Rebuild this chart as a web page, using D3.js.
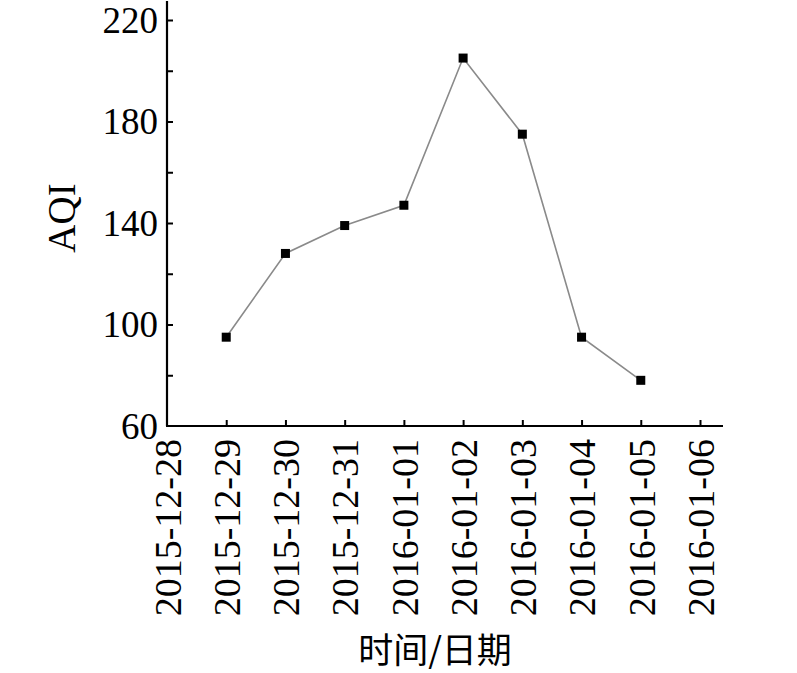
<!DOCTYPE html>
<html>
<head>
<meta charset="utf-8">
<script src="https://cdn.jsdelivr.net/npm/d3@7"></script>
<style>
  html, body { margin: 0; padding: 0; background: #fff; }
  svg { display: block; }
</style>
</head>
<body>
<svg id="chart" width="797" height="673"></svg>
<script>
const dates = ["2015-12-29","2015-12-30","2015-12-31","2016-01-01","2016-01-02","2016-01-03","2016-01-04","2016-01-05"];
const aqi = [95, 128, 139, 147, 205, 175, 95, 78];
const xTickLabels = ["2015-12-28","2015-12-29","2015-12-30","2015-12-31","2016-01-01","2016-01-02","2016-01-03","2016-01-04","2016-01-05","2016-01-06"];
const yTicks = [60, 100, 140, 180, 220];
const yMinorTicks = [80, 120, 160, 200];
const xTitle = "时间/日期";
const yTitle = "AQI";

const parse = d3.timeParse("%Y-%m-%d");
const fmt = d3.timeFormat("%Y-%m-%d");
const svg = d3.select("#chart");

const x = d3.scaleTime()
  .domain([parse(xTickLabels[0]), parse(xTickLabels[xTickLabels.length - 1])])
  .range([167, 700]);
const y = d3.scaleLinear().domain([60, 220]).range([426, 20]);

const serif = "'Liberation Serif', 'Times New Roman', serif";

// axes lines
const axisG = svg.append("g").attr("stroke", "#000").attr("stroke-width", 2.2);
axisG.append("line").attr("x1", 167).attr("x2", 167).attr("y1", y(60)).attr("y2", 1);
axisG.append("line").attr("x1", 166).attr("x2", 723).attr("y1", y(60)).attr("y2", y(60));

// y axis
const yAxis = d3.axisRight(y).tickValues(yTicks).tickSize(6).tickFormat(d3.format("d"));
const gy = svg.append("g").attr("transform", "translate(167,0)").call(yAxis);
gy.select(".domain").remove();
gy.selectAll(".tick line").attr("stroke", "#000").attr("stroke-width", 2);
gy.selectAll(".tick text")
  .attr("x", -9).attr("dy", "0.33em")
  .attr("text-anchor", "end")
  .style("font-family", serif).style("font-size", "37px").attr("fill", "#000");
gy.selectAll(".tick").filter(d => d === 60).select("line").remove();

const gyMinor = svg.append("g").attr("transform", "translate(167,0)")
  .call(d3.axisRight(y).tickValues(yMinorTicks).tickSize(6).tickFormat(""));
gyMinor.select(".domain").remove();
gyMinor.selectAll(".tick line").attr("stroke", "#000").attr("stroke-width", 2);

// x axis
const xAxis = d3.axisTop(x).tickValues(xTickLabels.map(parse)).tickSize(6).tickFormat(fmt);
const gx = svg.append("g").attr("transform", `translate(0,${y(60)})`).call(xAxis);
gx.select(".domain").remove();
gx.selectAll(".tick line").attr("stroke", "#000").attr("stroke-width", 2);
gx.selectAll(".tick").filter((d, i) => i === 0).select("line").remove();
gx.selectAll(".tick text")
  .attr("transform", "rotate(-90)")
  .attr("x", -13).attr("y", 0).attr("dy", "0.35em")
  .attr("text-anchor", "end")
  .style("font-family", serif).style("font-size", "38px").attr("fill", "#000");

// line
const pts = dates.map((d, i) => ({ date: parse(d), v: aqi[i] }));
svg.append("path")
  .datum(pts)
  .attr("fill", "none")
  .attr("stroke", "#8a8a8a")
  .attr("stroke-width", 1.6)
  .attr("d", d3.line().x(d => x(d.date)).y(d => y(d.v)));

// markers
const ms = 9;
svg.append("g").selectAll("rect").data(pts).join("rect")
  .attr("x", d => x(d.date) - ms / 2)
  .attr("y", d => y(d.v) - ms / 2)
  .attr("width", ms).attr("height", ms)
  .attr("fill", "#000");

// titles
svg.append("text")
  .attr("transform", `translate(75,218) rotate(-90)`)
  .attr("text-anchor", "middle")
  .style("font-family", serif).style("font-size", "39px").attr("fill", "#000")
  .text(yTitle);

svg.append("text")
  .attr("x", 435).attr("y", 663)
  .attr("text-anchor", "middle")
  .style("font-family", "'Noto Sans CJK SC', sans-serif").style("font-size", "35px").attr("fill", "#000")
  .text(xTitle);
</script>
</body>
</html>
